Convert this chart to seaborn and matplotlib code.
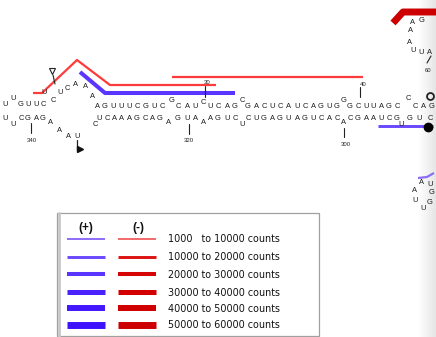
import numpy as np
import pandas as pd
import matplotlib
matplotlib.use("Agg")
import matplotlib.pyplot as plt
import seaborn as sns
from matplotlib.patches import Rectangle

sns.set_theme(style="white")
plt.rcParams['font.family'] = ['Liberation Sans', 'DejaVu Sans']

# ---------------- data: nucleotide labels (letter, x, y in drawing units) ----------
top_letters = list("UUGUUC") + list("UCUCAAA") + list("AGUUUCGUC") + ["G"] + list("CAU") + ["C"] \
    + list("UCAG") + ["C"] + list("GACUCAUCAGUG") + ["G"] + list("GCUUAGC") + ["C"] + list("CAG")
top_x = [13, 5, 21, 28, 36, 43] + [44, 53, 60, 67, 75, 85, 92] \
    + [97, 105, 113, 121, 129, 137, 146, 154, 162] + [172] + [178, 187, 195] + [203] \
    + [210, 218, 227, 235] + [242] + [248, 256, 264, 272, 280, 288, 297, 305, 313, 321, 329, 337] \
    + [344] + [350, 358, 366, 373, 381, 389, 397] + [408] + [415, 423, 432]
top_y = [99, 105, 105, 105, 105, 105] + [93, 100, 93, 88, 85, 87, 96] \
    + [106] * 9 + [100] + [106] * 3 + [102] + [106] * 4 + [100] + [106] * 12 + [100] \
    + [106] * 7 + [98] + [106] * 3

bot_letters = list("UUCGAG") + list("AAAUC") + list("UC") + list("AAA") + list("GCAG") + ["A"] \
    + list("GUA") + ["A"] + list("AGUC") + ["U"] + list("CUGAGUAGUCAC") + ["A"] + list("CGAAUCG") \
    + ["U"] + list("GUC")
bot_x = [5, 13, 21, 28, 36, 43] + [50, 59, 68, 77, 95] + [99, 107] + [114, 121, 129] \
    + [137, 145, 152, 160] + [168] + [178, 187, 195] + [203] + [210, 218, 227, 235] + [242] \
    + [248, 256, 264, 272, 280, 288, 297, 305, 313, 321, 329, 337] + [343] \
    + [350, 358, 366, 373, 381, 389, 397] + [401] + [410, 419, 430]
bot_y = [118, 125, 118, 118, 118, 118] + [122, 130, 136, 137, 125] + [118] * 2 + [118] * 3 \
    + [118] * 4 + [123] + [118] * 3 + [122] + [118] * 4 + [124] + [118] * 12 + [123] \
    + [118] * 7 + [124] + [118] * 3

hairpin_letters = list("AGAAUUA") + list("AUAGUGU")
hairpin_x = [412, 422, 410, 409, 413, 421, 429] + [421, 430, 414, 432, 415, 430, 423]
hairpin_y = [22, 21, 31, 42, 50, 53, 52] + [182, 185, 190, 193, 200, 203, 208]

# position numbers
num_labels = ["340", "320", "300", "30", "40", "60"]
num_x = [32, 189, 346, 207, 363, 428]
num_y = [141, 141, 145, 83, 84, 70]

# ---------------- data: read coverage traces (strand, count bin, path) ----------------
cov_strand = ["-", "-", "+", "+", "-", "+"]
cov_bin = [1, 1, 3, 2, 6, 1]
cov_x = [[33, 42, 77, 110, 216], [172, 363], [80, 105, 235], [378, 433], [393, 403, 436],
         [418, 427, 434]]
cov_y = [[93, 93, 60, 85, 85], [77, 77], [72, 93, 93], [126, 126], [23, 12, 12],
         [178, 177, 173]]

# ---------------- data: legend ----------------
legend_bins = ["1000   to 10000 counts", "10000 to 20000 counts", "20000 to 30000 counts",
               "30000 to 40000 counts", "40000 to 50000 counts", "50000 to 60000 counts"]
plus_colors = ["#8d6cf6", "#6a48ff", "#5a34ff", "#4a22ff", "#4318ff", "#3f12ff"]
minus_colors = ["#f26a6a", "#dd1111", "#d60505", "#d40000", "#d00000", "#cc0000"]
bin_widths = [1.4, 2.1, 2.9, 3.6, 4.3, 5.0]

# ---------------- figure ----------------
fig = plt.figure(figsize=(4.36, 3.37), dpi=100)
ax = fig.add_axes([0, 0, 1, 1])
ax.set_xlim(0, 436)
ax.set_ylim(337, 0)
ax.axis("off")

# faint page shadow at right edge
grad = np.linspace(0, 1, 50)[None, :]
ax.imshow(grad, extent=[418, 436, 337, 0], cmap=matplotlib.colors.LinearSegmentedColormap.from_list(
    "g", ["#ffffff", "#e6e6e6"]), aspect="auto", zorder=0)

# coverage traces
for s, b, xs, ys in zip(cov_strand, cov_bin, cov_x, cov_y):
    col = plus_colors[b - 1] if s == "+" else minus_colors[b - 1]
    if s == "-" and b == 1:
        col = "#ff3a3a"
    df = pd.DataFrame({"x": xs, "y": ys})
    sns.lineplot(data=df, x="x", y="y", ax=ax, sort=False, estimator=None, color=col,
                 linewidth=bin_widths[b - 1] + (0.2 if b == 1 else 0), zorder=2,
                 solid_capstyle="butt")

# nucleotides
for letters, xs, ys in [(top_letters, top_x, top_y), (bot_letters, bot_x, bot_y),
                        (hairpin_letters, hairpin_x, hairpin_y)]:
    for t, x, y in zip(letters, xs, ys):
        ax.text(x, y, t, ha="center", va="center", fontsize=5.4, color="#1a1a1a", zorder=3)

# numbering ticks
tick_x0 = [31, 189, 344, 205, 360, 431]
tick_y0 = [123, 124, 128, 86, 87, 56]
tick_x1 = [31, 189, 344, 205, 360, 427]
tick_y1 = [133, 134, 137, 97, 97, 63]
for x0, y0, x1, y1 in zip(tick_x0, tick_y0, tick_x1, tick_y1):
    ax.plot([x0, x1], [y0, y1], color="#222222", lw=0.8, zorder=3)
for t, x, y in zip(num_labels, num_x, num_y):
    ax.text(x, y, t, ha="center", va="center", fontsize=4.3, color="#222222", zorder=4)

# markers
ax.plot([53, 55], [75, 84], color="#222222", lw=0.8, zorder=3)
ax.plot([52], [71], marker="v", ms=5, mfc="none", mec="#222222", mew=0.8, zorder=4)
ax.plot([77, 77], [140, 150], color="#222222", lw=0.9, zorder=3)
ax.plot([80], [149], marker=">", ms=5, color="#111111", zorder=4)
ax.plot([430], [96], marker="o", ms=5, mfc="none", mec="#222222", mew=1.3, zorder=4)
ax.plot([428], [127], marker="o", ms=6, color="#000000", zorder=4)

# legend box
ax.add_patch(Rectangle((57, 213), 262, 123, fill=False, edgecolor="#a0a0a0", lw=0.9, zorder=1))
ax.plot([58.5, 58.5], [213, 336], color="#c8c8c8", lw=2.0, zorder=1)
ax.text(86, 228, "(+)", ha="center", va="center", fontsize=8.5, fontweight="bold", color="#111111")
ax.text(138, 228, "(-)", ha="center", va="center", fontsize=8.5, fontweight="bold", color="#111111")
row_y = [239, 257, 274, 292, 308, 325]
for i, (lab, ry) in enumerate(zip(legend_bins, row_y)):
    sns.lineplot(x=[67, 105], y=[ry, ry], ax=ax, color=plus_colors[i], linewidth=bin_widths[i],
                 estimator=None, solid_capstyle="butt")
    sns.lineplot(x=[118, 156], y=[ry, ry], ax=ax, color=minus_colors[i], linewidth=bin_widths[i],
                 estimator=None, solid_capstyle="butt")
    ax.text(168, ry + 0.5, lab, ha="left", va="center", fontsize=6.9, color="#111111",
            family=["DejaVu Sans"])

ax.set_xlim(0, 436)
ax.set_ylim(337, 0)
ax.set_xlabel("")
ax.set_ylabel("")
fig.savefig("out.png", dpi=100)
